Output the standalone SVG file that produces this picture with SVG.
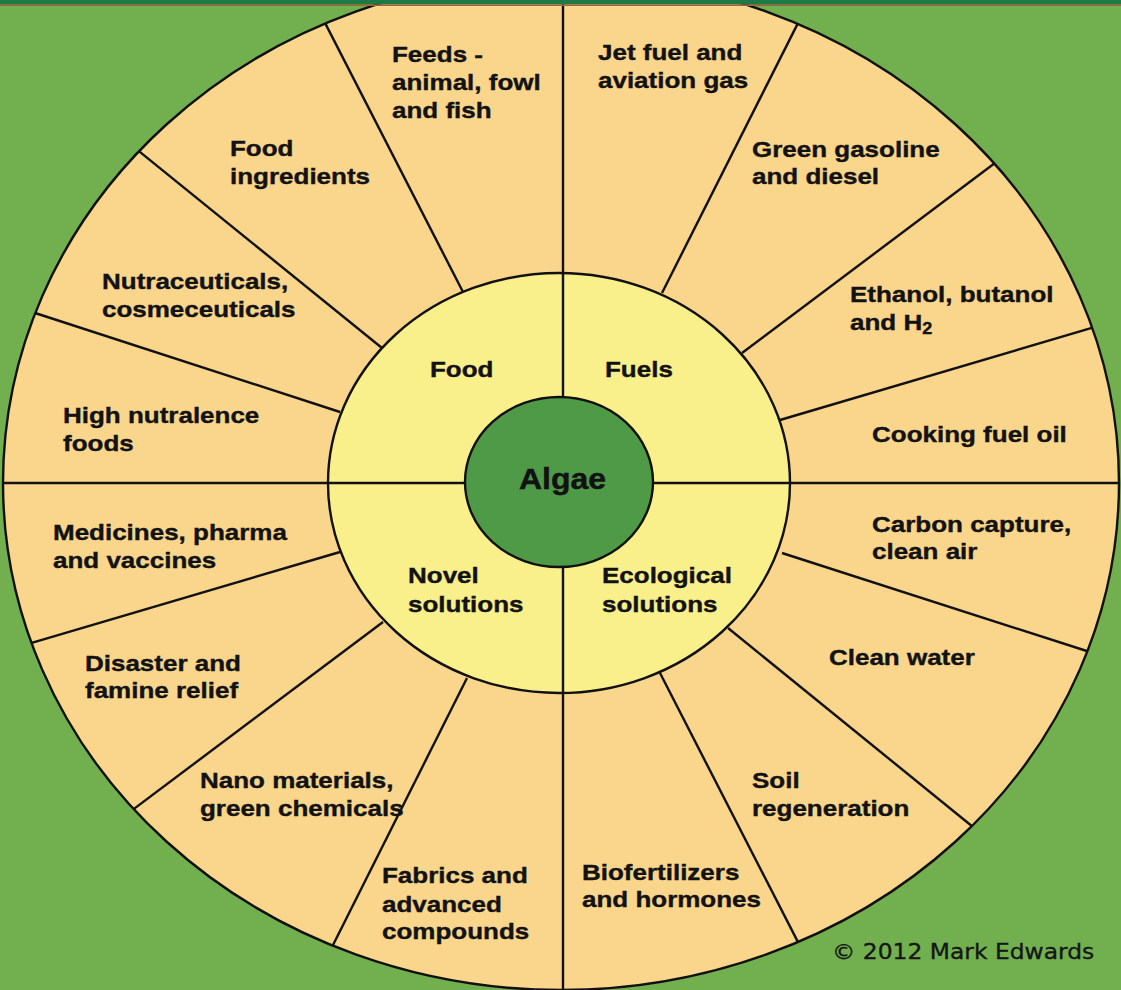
<svg xmlns="http://www.w3.org/2000/svg" width="1121" height="990" viewBox="0 0 1121 990">
  <defs>
    <style>
      .lbl { font-family: "Liberation Sans", Arial, sans-serif; font-weight: bold; font-size: 26px; fill: #121212; stroke: #121212; stroke-width: 0.45; }
      .algae { font-family: "Liberation Sans", Arial, sans-serif; font-weight: bold; font-size: 32px; fill: #121212; stroke: #121212; stroke-width: 0.5; }
      .copy { font-family: "DejaVu Sans", Verdana, sans-serif; font-size: 23.4px; fill: #151515; stroke: #151515; stroke-width: 0.35; }
      .ln { stroke: #111; stroke-width: 2.4; fill: none; }
      .sub { font-size: 18px; }
    </style>
    <clipPath id="outerClip">
      <ellipse cx="561" cy="483" rx="558" ry="507"/>
    </clipPath>
  </defs>

  <rect x="0" y="0" width="1121" height="990" fill="#71af4f"/>

  <g id="outer-ring">
    <ellipse cx="561" cy="483" rx="558" ry="507" fill="#f9d68b"/>
  </g>

  <g id="connectors" clip-path="url(#outerClip)">
    <line class="ln" x1="320.9" y1="14.9" x2="463" y2="292"/>
    <line class="ln" x1="132.7" y1="146.1" x2="382" y2="348"/>
    <line class="ln" x1="25.8" y1="310" x2="340" y2="412"/>
    <line class="ln" x1="802.1" y1="14.9" x2="662" y2="293"/>
    <line class="ln" x1="1002.6" y1="157.3" x2="742" y2="353"/>
    <line class="ln" x1="1104.5" y1="324.2" x2="780" y2="420"/>
    <line class="ln" x1="1099.2" y1="655" x2="782" y2="553"/>
    <line class="ln" x1="980.4" y1="833" x2="728" y2="628"/>
    <line class="ln" x1="802.1" y1="950.1" x2="660" y2="673"/>
    <line class="ln" x1="329" y1="953" x2="467" y2="678"/>
    <line class="ln" x1="127.6" y1="813.6" x2="383" y2="622"/>
    <line class="ln" x1="25.8" y1="644.7" x2="340" y2="552"/>
    <line class="ln" x1="563" y1="0" x2="563" y2="300"/>
    <line class="ln" x1="563" y1="670" x2="563" y2="990"/>
    <line class="ln" x1="0" y1="483" x2="340" y2="483"/>
    <line class="ln" x1="780" y1="483" x2="1121" y2="483"/>
  </g>

  <ellipse class="ln" cx="561" cy="483" rx="558" ry="507"/>

  <g id="inner-ring">
    <ellipse cx="559" cy="483" rx="231" ry="210" fill="#f9ef8b" stroke="#111" stroke-width="2.4"/>
    <line class="ln" x1="563" y1="273" x2="563" y2="693"/>
    <line class="ln" x1="328" y1="483" x2="790" y2="483"/>
  </g>

  <g id="algae">
    <ellipse cx="559" cy="482" rx="94" ry="85" fill="#4f9a46" stroke="#111" stroke-width="2.4"/>
    <text class="algae" transform="translate(519,489) scale(1,0.9)">Algae</text>
  </g>

  <g id="top-band">
    <rect x="0" y="0" width="1121" height="4.5" fill="#1d7a46"/>
    <rect x="0" y="4.5" width="1121" height="1.5" fill="#a0603a"/>
  </g>

  <g id="food">
    <text class="lbl" transform="translate(430,377) scale(1,0.88)">Food</text>
  </g>
  <g id="fuels">
    <text class="lbl" transform="translate(605,377) scale(1,0.88)">Fuels</text>
  </g>
  <g id="novel">
    <text class="lbl" transform="translate(408,583) scale(1,0.88)"><tspan x="0" y="0">Novel</tspan><tspan x="0" y="32.4">solutions</tspan></text>
  </g>
  <g id="ecological">
    <text class="lbl" transform="translate(602,583) scale(1,0.88)"><tspan x="0" y="0">Ecological</tspan><tspan x="0" y="32.4">solutions</tspan></text>
  </g>

  <g id="feeds">
    <text class="lbl" transform="translate(392,62) scale(1,0.88)"><tspan x="0" y="0">Feeds -</tspan><tspan x="0" y="31.8">animal, fowl</tspan><tspan x="0" y="63.6">and fish</tspan></text>
  </g>
  <g id="jet-fuel">
    <text class="lbl" transform="translate(598,60) scale(1,0.88)"><tspan x="0" y="0">Jet fuel and</tspan><tspan x="0" y="31.8">aviation gas</tspan></text>
  </g>
  <g id="food-ingredients">
    <text class="lbl" transform="translate(230,156) scale(1,0.88)"><tspan x="0" y="0">Food</tspan><tspan x="0" y="31.8">ingredients</tspan></text>
  </g>
  <g id="green-gasoline">
    <text class="lbl" transform="translate(752,157) scale(1,0.88)"><tspan x="0" y="0">Green gasoline</tspan><tspan x="0" y="30.7">and diesel</tspan></text>
  </g>
  <g id="nutraceuticals">
    <text class="lbl" transform="translate(102,289) scale(1,0.88)"><tspan x="0" y="0">Nutraceuticals,</tspan><tspan x="0" y="31.8">cosmeceuticals</tspan></text>
  </g>
  <g id="ethanol">
    <text class="lbl" transform="translate(850,302) scale(1,0.88)"><tspan x="0" y="0">Ethanol, butanol</tspan><tspan x="0" y="31.8">and H</tspan><tspan class="sub" dy="5">2</tspan></text>
  </g>
  <g id="high-nutralence">
    <text class="lbl" transform="translate(63,423) scale(1,0.88)"><tspan x="0" y="0">High nutralence</tspan><tspan x="0" y="31.8">foods</tspan></text>
  </g>
  <g id="cooking-fuel">
    <text class="lbl" transform="translate(872,442) scale(1,0.88)">Cooking fuel oil</text>
  </g>
  <g id="medicines">
    <text class="lbl" transform="translate(53,540) scale(1,0.88)"><tspan x="0" y="0">Medicines, pharma</tspan><tspan x="0" y="31.8">and vaccines</tspan></text>
  </g>
  <g id="carbon-capture">
    <text class="lbl" transform="translate(872,532) scale(1,0.88)"><tspan x="0" y="0">Carbon capture,</tspan><tspan x="0" y="30.7">clean air</tspan></text>
  </g>
  <g id="disaster">
    <text class="lbl" transform="translate(85,671) scale(1,0.88)"><tspan x="0" y="0">Disaster and</tspan><tspan x="0" y="30.7">famine relief</tspan></text>
  </g>
  <g id="clean-water">
    <text class="lbl" transform="translate(829,665) scale(1,0.88)">Clean water</text>
  </g>
  <g id="nano">
    <text class="lbl" transform="translate(200,788) scale(1,0.88)"><tspan x="0" y="0">Nano materials,</tspan><tspan x="0" y="31.8">green chemicals</tspan></text>
  </g>
  <g id="soil">
    <text class="lbl" transform="translate(752,788) scale(1,0.88)"><tspan x="0" y="0">Soil</tspan><tspan x="0" y="31.8">regeneration</tspan></text>
  </g>
  <g id="fabrics">
    <text class="lbl" transform="translate(382,883) scale(1,0.88)"><tspan x="0" y="0">Fabrics and</tspan><tspan x="0" y="32.4">advanced</tspan><tspan x="0" y="64.2">compounds</tspan></text>
  </g>
  <g id="biofertilizers">
    <text class="lbl" transform="translate(582,880) scale(1,0.88)"><tspan x="0" y="0">Biofertilizers</tspan><tspan x="0" y="30.7">and hormones</tspan></text>
  </g>

  <g id="copyright">
    <text class="copy" transform="translate(832,959) scale(1,0.88)">© 2012 Mark Edwards</text>
  </g>
</svg>
